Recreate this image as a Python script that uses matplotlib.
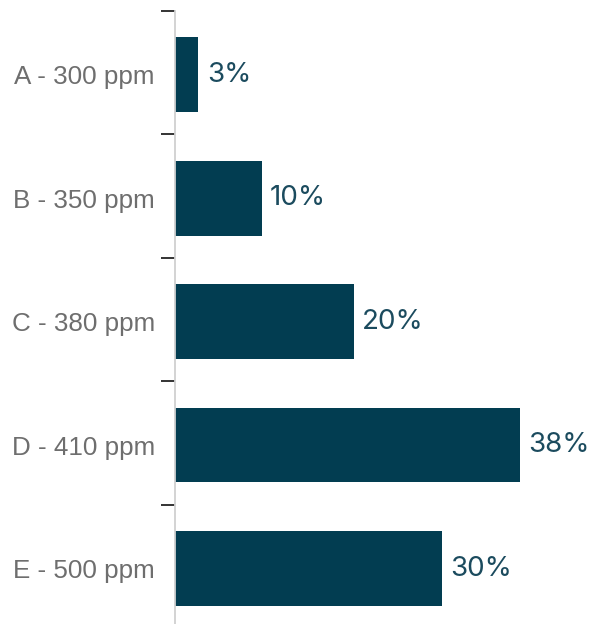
import matplotlib
matplotlib.use("Agg")
import matplotlib.pyplot as plt
import numpy as np

categories = ["A - 300 ppm", "B - 350 ppm", "C - 380 ppm", "D - 410 ppm", "E - 500 ppm"]
values = [2.6, 9.6, 19.8, 38.2, 29.6]

BAR = "#023d51"
TXT = "#1b4b5e"
LBL = "#6e6e6e"

W, H = 592, 624
fig = plt.figure(figsize=(W / 100, H / 100), dpi=100)
top_px = 10.7
ax = fig.add_axes([175 / W, 0, 1 - 175 / W, 1 - top_px / H])

y = np.arange(len(categories))
ax.barh(y, values, height=0.607, color=BAR, edgecolor="none")

step_px = 123.5
c0_px = 74.5
ax.set_ylim((H - c0_px) / step_px, (top_px - c0_px) / step_px)
ax.set_xlim(0, (W - 175) / (345 / 38.2))

# labels at bar centers (minor), tick marks at band boundaries (major)
ax.set_yticks(y - 0.517)
ax.set_yticklabels([])
ax.set_yticks(y, minor=True)
ax.set_yticklabels(categories, minor=True, fontsize=18.7, color=LBL,
                   family=["Liberation Sans", "DejaVu Sans"])
ax.tick_params(axis="y", which="major", length=10, width=1.4, color="#333333", direction="out")
ax.tick_params(axis="y", which="minor", length=0, pad=14.5)
ax.set_xticks([])

for s in ["top", "right", "bottom"]:
    ax.spines[s].set_visible(False)
ax.spines["left"].set_color("#d0d0d0")
ax.spines["left"].set_linewidth(1.3)

for yi, v in zip(y, values):
    ax.annotate(f"{v:.0f}%", xy=(v, yi), xytext=(6, 0), textcoords="offset points",
                ha="left", va="center", fontsize=20, color=TXT,
                family=["Inter", "DejaVu Sans"])

fig.savefig("out.png", dpi=100)
